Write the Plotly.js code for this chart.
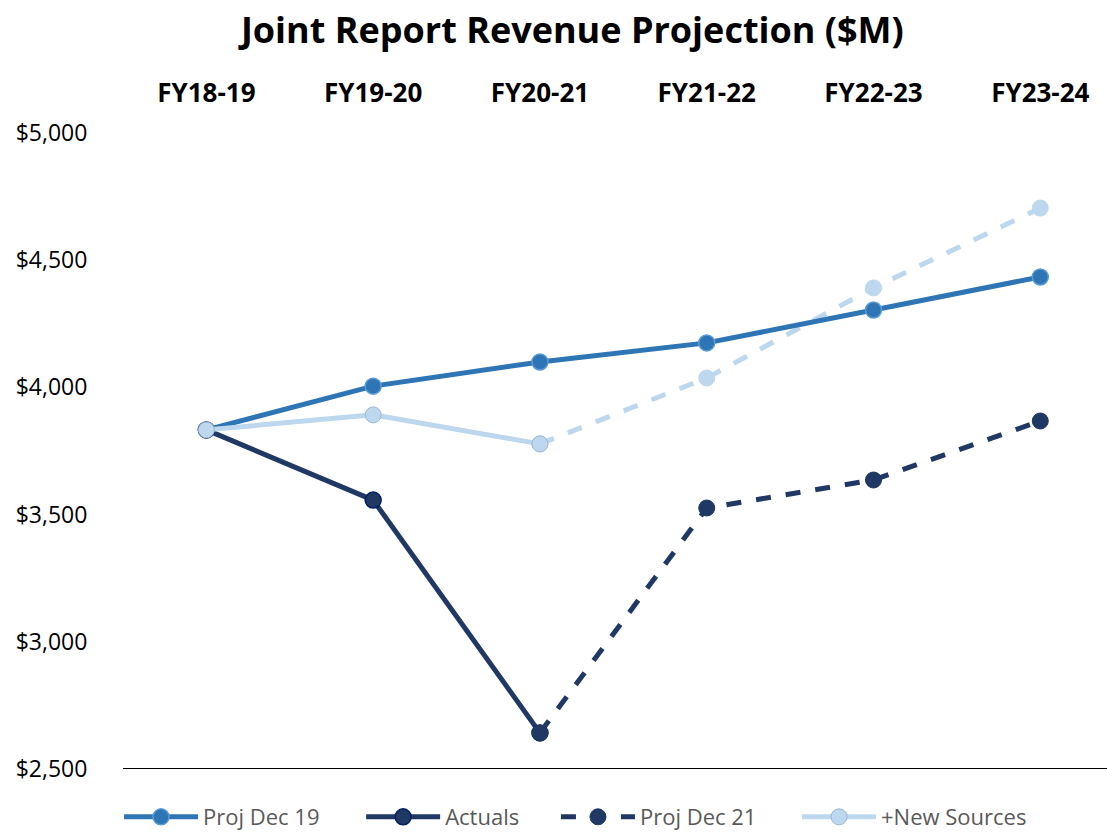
<!DOCTYPE html>
<html><head><meta charset="utf-8">
<script src="https://cdn.plot.ly/plotly-3.0.1.min.js"></script>
<style>body{margin:0;background:#fff}#chart{width:1107px;height:834px}</style>
</head><body><div id="chart"></div>
<script>
const categories = ["FY18-19","FY19-20","FY20-21","FY21-22","FY22-23","FY23-24"];
const projDec19 = [3833, 4005, 4100, 4175, 4304, 4434];
const actualsX = ["FY18-19","FY19-20","FY20-21"];
const actuals = [3833, 3557, 2642];
const projDec21X = ["FY20-21","FY21-22","FY22-23","FY23-24"];
const projDec21 = [2642, 3526, 3636, 3868];
const newSourcesX = ["FY18-19","FY19-20","FY20-21"];
const newSources = [3833, 3892, 3778];
const newSourcesProjX = ["FY20-21","FY21-22","FY22-23","FY23-24"];
const newSourcesProj = [3778, 4037, 4391, 4705];
const yTicks = [2500, 3000, 3500, 4000, 4500, 5000];
const yTickText = ["$2,500","$3,000","$3,500","$4,000","$4,500","$5,000"];

const FONT = "Open Sans, Liberation Sans, Arial, sans-serif";
const cDec19 = "#2E75B6", cAct = "#203864", cNew = "#BDD7EE";
const traces = [
  {x: newSourcesProjX, y: newSourcesProj, mode: "lines+markers", showlegend: false, name: "+New Sources",
   line: {color: cNew, width: 5, dash: "dash"}, marker: {color: cNew, size: 16, line: {color: cNew, width: 1}}},
  {x: categories, y: projDec19, mode: "lines+markers", name: "Proj Dec 19", legend: "legend",
   line: {color: cDec19, width: 5}, marker: {color: cDec19, size: 16, line: {color: "#5B9BD5", width: 1.5}}},
  {x: actualsX, y: actuals, mode: "lines+markers", name: "Actuals", legend: "legend2",
   line: {color: cAct, width: 5}, marker: {color: cAct, size: 16, line: {color: "#002060", width: 1.5}}},
  {x: projDec21X, y: projDec21, mode: "lines+markers", name: "Proj Dec 21", legend: "legend3",
   line: {color: cAct, width: 5, dash: "dash"}, marker: {color: cAct, size: 16, line: {color: cAct, width: 1}}},
  {x: newSourcesX, y: newSources, mode: "lines+markers", name: "+New Sources", legend: "legend4",
   line: {color: cNew, width: 5}, marker: {color: cNew, size: 16, line: {color: "#9DB7D5", width: 1}}}
];

function leg(x) {
  return {orientation: "h", x: x, xanchor: "left", y: -0.0755, yanchor: "middle",
          font: {size: 22, color: "#595959", family: FONT}, itemwidth: 74,
          bgcolor: "rgba(0,0,0,0)"};
}

const layout = {
  width: 1107, height: 834,
  margin: {l: 123, r: 0, t: 133, b: 65, autoexpand: false},
  paper_bgcolor: "#fff", plot_bgcolor: "#fff",
  font: {family: FONT, color: "#000"},
  title: {text: "<b>Joint Report Revenue Projection ($M)</b>", x: 0.517, xref: "container", xanchor: "center",
          y: 0.963, yanchor: "middle", font: {size: 36, color: "#000", family: FONT}},
  xaxis: {type: "category", categoryorder: "array", categoryarray: categories, side: "top",
          range: [-0.5, 5.4], showline: false, showgrid: false, zeroline: false,
          ticks: "outside", ticklen: 20, tickcolor: "rgba(0,0,0,0)",
          tickfont: {size: 26, color: "#000", family: FONT, weight: "bold"}},
  yaxis: {range: [2500, 5000], tickvals: yTicks, ticktext: yTickText, showgrid: false, zeroline: false, showline: false,
          ticks: "outside", ticklen: 30, tickcolor: "rgba(0,0,0,0)",
          tickfont: {size: 23, color: "#000", family: FONT}},
  shapes: [{type: "line", xref: "paper", yref: "y", x0: 0, x1: 1, y0: 2500, y1: 2500,
            line: {color: "#000", width: 2}, layer: "below"}],
  legend: leg(-0.004),
  legend2: leg(0.242),
  legend3: leg(0.44),
  legend4: leg(0.685),
  showlegend: true
};
Plotly.newPlot("chart", traces, layout, {displayModeBar: false, staticPlot: true});
</script></body></html>
